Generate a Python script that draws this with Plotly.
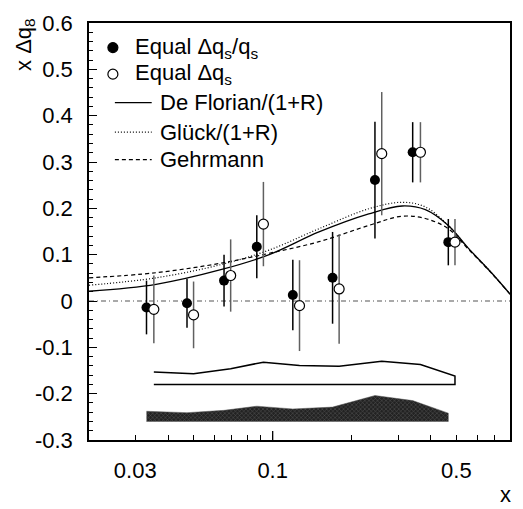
import math
import plotly.graph_objects as go

# ---------------- data ----------------
x_filled = [0.0331, 0.0472, 0.0653, 0.0870, 0.1193, 0.169, 0.245, 0.341, 0.466]
y_filled = [-0.014, -0.005, 0.044, 0.117, 0.013, 0.050, 0.261, 0.321, 0.127]
e_filled = [0.058, 0.053, 0.056, 0.068, 0.076, 0.099, 0.126, 0.065, 0.050]

x_open = [0.0353, 0.0500, 0.0692, 0.0922, 0.1265, 0.179, 0.260, 0.365, 0.494]
y_open = [-0.018, -0.030, 0.055, 0.166, -0.010, 0.026, 0.318, 0.321, 0.127]
e_open = [0.073, 0.072, 0.078, 0.091, 0.098, 0.118, 0.133, 0.065, 0.050]

# systematic-error bands (height above band base)
sys_open_base = -0.18
sys_open = [0.027, 0.023, 0.034, 0.048, 0.041, 0.039, 0.050, 0.043, 0.018]
sys_filled_base = -0.26
sys_filled = [0.022, 0.019, 0.024, 0.033, 0.027, 0.031, 0.056, 0.045, 0.018]

# model curves
x_curve = [0.020, 0.036, 0.064, 0.097, 0.150, 0.232, 0.311, 0.381, 0.466, 0.555, 0.680, 0.800]
deflorian = [0.021, 0.036, 0.068, 0.100, 0.149, 0.188, 0.205, 0.197, 0.163, 0.114, 0.061, 0.015]
gluck = [0.034, 0.050, 0.079, 0.110, 0.156, 0.199, 0.213, 0.203, 0.163, 0.114, 0.061, 0.015]
gehrmann = [0.050, 0.061, 0.082, 0.103, 0.128, 0.163, 0.183, 0.178, 0.156, 0.112, 0.060, 0.015]

x_tickvals = [0.03, 0.1, 0.5]
x_ticktext = ["0.03", "0.1", "0.5"]
x_minor = [0.02, 0.04, 0.05, 0.06, 0.07, 0.08, 0.09, 0.2, 0.3, 0.4, 0.6, 0.7, 0.8]
y_tickvals = [-0.3, -0.2, -0.1, 0, 0.1, 0.2, 0.3, 0.4, 0.5, 0.6]
y_ticktext = ["-0.3", "-0.2", "-0.1", "0", "0.1", "0.2", "0.3", "0.4", "0.5", "0.6"]

legend_labels = ["Equal Δq<sub>s</sub>/q<sub>s</sub>", "Equal Δq<sub>s</sub>",
                 "De Florian/(1+R)", "Glück/(1+R)", "Gehrmann"]

FONT = "Liberation Sans, Arial, Helvetica, sans-serif"
FS = 22

fig = go.Figure()

# curves
fig.add_trace(go.Scatter(x=x_curve, y=deflorian, mode="lines", line=dict(color="black", width=1.3, shape="spline"), showlegend=False))
fig.add_trace(go.Scatter(x=x_curve, y=gluck, mode="lines", line=dict(color="black", width=1.2, dash="1px,2px", shape="spline"), showlegend=False))
fig.add_trace(go.Scatter(x=x_curve, y=gehrmann, mode="lines", line=dict(color="black", width=1.2, dash="4px,3px", shape="spline"), showlegend=False))

# bands
bo_x = x_open + [x_open[-1], x_open[0]]
bo_y = [sys_open_base + s for s in sys_open] + [sys_open_base, sys_open_base]
fig.add_trace(go.Scatter(x=bo_x, y=bo_y, mode="lines", fill="toself", fillcolor="white",
                         line=dict(color="black", width=1.5), showlegend=False))
bf_x = x_filled + [x_filled[-1], x_filled[0]]
bf_y = [sys_filled_base + s for s in sys_filled] + [sys_filled_base, sys_filled_base]
fig.add_trace(go.Scatter(x=bf_x, y=bf_y, mode="lines", fill="toself", fillcolor="#3a3a3a",
                         fillpattern=dict(shape="x", size=3, fgcolor="#8a8a8a", bgcolor="#222222", solidity=0.3),
                         line=dict(color="#555555", width=0.5), showlegend=False))

# data points
fig.add_trace(go.Scatter(x=x_filled, y=y_filled, mode="markers",
                         marker=dict(symbol="circle", size=10, color="black"),
                         error_y=dict(type="data", array=e_filled, color="black", thickness=1.5, width=0),
                         showlegend=False))
fig.add_trace(go.Scatter(x=x_open, y=y_open, mode="markers",
                         marker=dict(symbol="circle", size=10, color="white", line=dict(color="black", width=1.2)),
                         error_y=dict(type="data", array=e_open, color="#606060", thickness=1.5, width=0),
                         showlegend=False))

W, H = 523, 509
L, R, T, B = 89, 11, 16, 69
PW, PH = W - L - R, H - T - B   # 423 x 424

def px(xp):
    return (xp - L) / PW

def py(yp):
    return 1 - (yp - T) / PH

shapes = []
shapes.append(dict(type="line", xref="paper", yref="y", x0=0, x1=1, y0=0, y1=0,
                   line=dict(color="#555555", width=1.2, dash="5px,3px,1px,3px"), layer="below"))
shapes.append(dict(type="line", xref="x", yref="paper", x0=0.1, x1=0.1, ysizemode="pixel", yanchor=0,
                   y0=0, y1=9, line=dict(color="black", width=1.3)))

for yy, fill in [(41, "black"), (68, "white")]:
    shapes.append(dict(type="circle", xref="paper", yref="paper", xsizemode="pixel", ysizemode="pixel",
                       xanchor=px(113), yanchor=py(yy), x0=-5, x1=5, y0=-5, y1=5,
                       fillcolor=fill, line=dict(color="black", width=1.2)))
for yy, dash in [(97, "solid"), (127, "1px,2px"), (155, "4px,3px")]:
    shapes.append(dict(type="line", xref="paper", yref="paper", x0=px(115), x1=px(152), y0=py(yy), y1=py(yy),
                       line=dict(color="black", width=1.2, dash=dash)))

annotations = []
for lab, yy, xx in zip(legend_labels, [41, 68, 97, 127, 155], [133, 133, 158, 158, 158]):
    annotations.append(dict(text=lab, xref="paper", yref="paper", x=px(xx), y=py(yy), xanchor="left", yanchor="middle",
                            showarrow=False, font=dict(family=FONT, size=FS, color="black")))
annotations.append(dict(text="x Δq<sub>8</sub>", xref="paper", yref="paper", x=px(24), y=py(38), textangle=-90,
                        xanchor="center", yanchor="middle", showarrow=False, font=dict(family=FONT, size=FS, color="black")))
annotations.append(dict(text="x", xref="paper", yref="paper", x=px(507), y=py(495), xanchor="center", yanchor="middle",
                        showarrow=False, font=dict(family=FONT, size=FS, color="black")))

fig.update_layout(
    width=W, height=H,
    margin=dict(l=L, r=R, t=T, b=B),
    paper_bgcolor="white", plot_bgcolor="white",
    font=dict(family=FONT, size=FS, color="black"),
    shapes=shapes, annotations=annotations,
    showlegend=False,
    xaxis=dict(type="log", range=[math.log10(0.02), math.log10(0.8)],
               tickvals=x_tickvals, ticktext=x_ticktext, ticks="inside", ticklen=5, tickwidth=1.2,
               tickcolor="black", showgrid=False, zeroline=False, showline=True, linecolor="black",
               linewidth=1.5, mirror=True, ticklabelstandoff=10,
               minor=dict(tickvals=x_minor, ticks="inside", ticklen=5, tickwidth=1.2, tickcolor="black", showgrid=False)),
    yaxis=dict(range=[-0.3, 0.6], ticks="inside", ticklen=8, tickwidth=1.2,
               tickcolor="black", showgrid=False, zeroline=False, showline=True, linecolor="black",
               linewidth=1.5, mirror=True, ticklabelstandoff=10, ticklabeloverflow="allow",
               tickvals=y_tickvals, ticktext=y_ticktext,
               minor=dict(dtick=0.02, tick0=0, ticks="inside", ticklen=4, tickwidth=1.2, tickcolor="black", showgrid=False)),
)

fig.write_html("out.html", config={"displayModeBar": False},
               post_script="document.body.style.margin='0px';document.body.style.overflow='hidden';")
